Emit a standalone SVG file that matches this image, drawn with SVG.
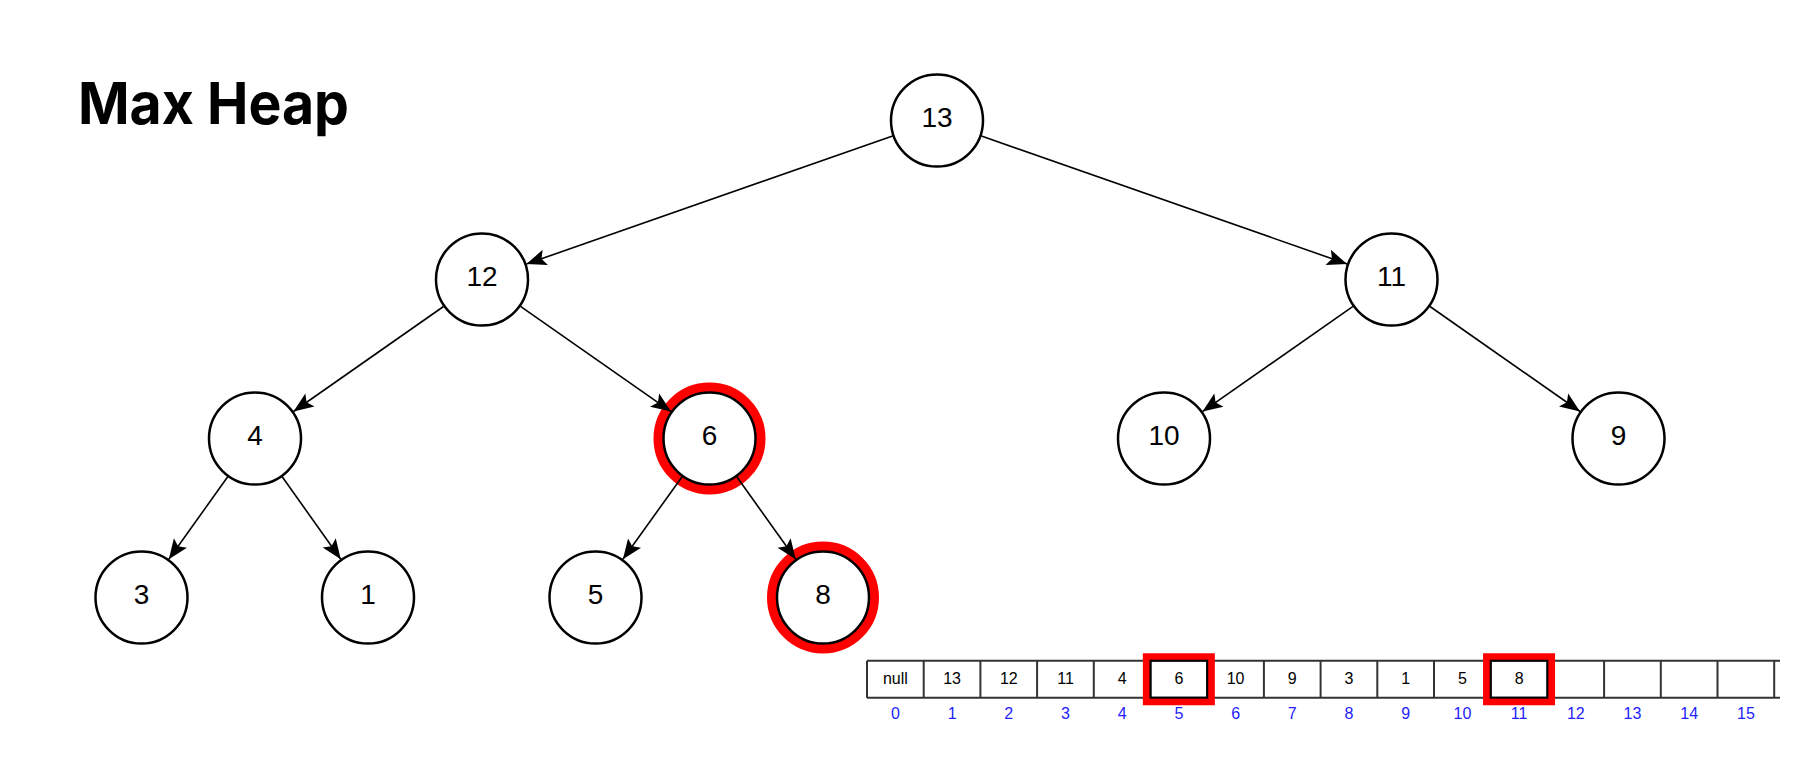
<svg xmlns="http://www.w3.org/2000/svg" width="1807" height="758" viewBox="0 0 1807 758">
  <style>
    .node circle.c { fill: #ffffff; stroke: #000000; stroke-width: 2.5; }
    .node circle.hl { fill: none; stroke: #ff0000; stroke-width: 10; }
    .node text { font-family: "Liberation Sans", Arial, sans-serif; font-size: 28px; fill: #000000; text-anchor: middle; }
    .edges line { stroke: #000000; stroke-width: 1.6; marker-end: url(#arrow); }
    .cellv { font-family: "Liberation Sans", Arial, sans-serif; font-size: 16px; fill: #000000; text-anchor: middle; }
    .celli { font-family: "Liberation Sans", Arial, sans-serif; font-size: 16px; fill: #2222ff; text-anchor: middle; }
    .tbl line { stroke: #333333; stroke-width: 2; }
    .redbox { fill: none; stroke: #ff0000; stroke-width: 7.5; }
    .cellbox { fill: none; stroke: #000000; stroke-width: 2; }
    .title { font-family: Inter, "Liberation Sans", Arial, sans-serif; font-weight: 700; font-size: 58px; fill: #000000; }
  </style>
  <defs>
    <marker id="arrow" markerUnits="userSpaceOnUse" markerWidth="20" markerHeight="16" refX="20" refY="8" orient="auto" overflow="visible">
      <path d="M0,0 L20,8 L0,16 L4,8 Z" fill="#000000"/>
    </marker>
  </defs>
  <rect width="1807" height="758" fill="#ffffff"/>

  <g id="title">
    <text class="title" x="78" y="123.5" textLength="271" lengthAdjust="spacingAndGlyphs">Max Heap</text>
  </g>

  <g id="node-13" class="node"><circle class="c" cx="937" cy="120.5" r="46"/><text x="937" y="127">13</text></g>
  <g id="node-12" class="node"><circle class="c" cx="482" cy="279.5" r="46"/><text x="482" y="286">12</text></g>
  <g id="node-11" class="node"><circle class="c" cx="1391.5" cy="279.5" r="46"/><text x="1391.5" y="286">11</text></g>
  <g id="node-4" class="node"><circle class="c" cx="255" cy="438.5" r="46"/><text x="255" y="445">4</text></g>
  <g id="node-6" class="node"><circle class="hl" cx="709.5" cy="438.5" r="51"/><circle class="c" cx="709.5" cy="438.5" r="46"/><text x="709.5" y="445">6</text></g>
  <g id="node-10" class="node"><circle class="c" cx="1164" cy="438.5" r="46"/><text x="1164" y="445">10</text></g>
  <g id="node-9" class="node"><circle class="c" cx="1618.5" cy="438.5" r="46"/><text x="1618.5" y="445">9</text></g>
  <g id="node-3" class="node"><circle class="c" cx="141.5" cy="597.5" r="46"/><text x="141.5" y="604">3</text></g>
  <g id="node-1" class="node"><circle class="c" cx="368" cy="597.5" r="46"/><text x="368" y="604">1</text></g>
  <g id="node-5" class="node"><circle class="c" cx="595.5" cy="597.5" r="46"/><text x="595.5" y="604">5</text></g>
  <g id="node-8" class="node"><circle class="hl" cx="823" cy="597.5" r="51"/><circle class="c" cx="823" cy="597.5" r="46"/><text x="823" y="604">8</text></g>

  <g id="connectors" class="edges">
    <line x1="892.6" y1="136" x2="526.4" y2="264"/>
    <line x1="981.4" y1="136" x2="1347.1" y2="264"/>
    <line x1="443.5" y1="306.5" x2="293.5" y2="411.5"/>
    <line x1="520.5" y1="306.4" x2="671" y2="411.6"/>
    <line x1="1353" y1="306.4" x2="1202.5" y2="411.6"/>
    <line x1="1430" y1="306.5" x2="1580" y2="411.5"/>
    <line x1="227.7" y1="476.8" x2="168.8" y2="559.3"/>
    <line x1="282.2" y1="476.8" x2="340.8" y2="559.2"/>
    <line x1="682.1" y1="476.7" x2="622.9" y2="559.3"/>
    <line x1="736.8" y1="476.8" x2="795.7" y2="559.3"/>
  </g>

  <g id="array">
    <g class="tbl">
      <line x1="867" y1="660.7" x2="1780" y2="660.7"/>
      <line x1="867" y1="697.7" x2="1780" y2="697.7"/>
      <line x1="867" y1="660.7" x2="867" y2="697.7"/>
      <line x1="923.7" y1="660.7" x2="923.7" y2="697.7"/>
      <line x1="980.4" y1="660.7" x2="980.4" y2="697.7"/>
      <line x1="1037.1" y1="660.7" x2="1037.1" y2="697.7"/>
      <line x1="1093.8" y1="660.7" x2="1093.8" y2="697.7"/>
      <line x1="1150.5" y1="660.7" x2="1150.5" y2="697.7"/>
      <line x1="1207.2" y1="660.7" x2="1207.2" y2="697.7"/>
      <line x1="1263.9" y1="660.7" x2="1263.9" y2="697.7"/>
      <line x1="1320.6" y1="660.7" x2="1320.6" y2="697.7"/>
      <line x1="1377.3" y1="660.7" x2="1377.3" y2="697.7"/>
      <line x1="1434" y1="660.7" x2="1434" y2="697.7"/>
      <line x1="1490.7" y1="660.7" x2="1490.7" y2="697.7"/>
      <line x1="1547.4" y1="660.7" x2="1547.4" y2="697.7"/>
      <line x1="1604.1" y1="660.7" x2="1604.1" y2="697.7"/>
      <line x1="1660.8" y1="660.7" x2="1660.8" y2="697.7"/>
      <line x1="1717.5" y1="660.7" x2="1717.5" y2="697.7"/>
      <line x1="1774.2" y1="660.7" x2="1774.2" y2="697.7"/>
    </g>
    <rect class="redbox" x="1146.6" y="657" width="64.5" height="44.5"/>
    <rect class="cellbox" x="1150.5" y="660.7" width="56.7" height="37"/>
    <rect class="redbox" x="1486.8" y="657" width="64.5" height="44.5"/>
    <rect class="cellbox" x="1490.7" y="660.7" width="56.7" height="37"/>

    <text class="cellv" x="895.4" y="684">null</text>
    <text class="cellv" x="952.1" y="684">13</text>
    <text class="cellv" x="1008.8" y="684">12</text>
    <text class="cellv" x="1065.5" y="684">11</text>
    <text class="cellv" x="1122.2" y="684">4</text>
    <text class="cellv" x="1178.9" y="684">6</text>
    <text class="cellv" x="1235.6" y="684">10</text>
    <text class="cellv" x="1292.3" y="684">9</text>
    <text class="cellv" x="1349" y="684">3</text>
    <text class="cellv" x="1405.7" y="684">1</text>
    <text class="cellv" x="1462.4" y="684">5</text>
    <text class="cellv" x="1519.1" y="684">8</text>

    <text class="celli" x="895.4" y="719">0</text>
    <text class="celli" x="952.1" y="719">1</text>
    <text class="celli" x="1008.8" y="719">2</text>
    <text class="celli" x="1065.5" y="719">3</text>
    <text class="celli" x="1122.2" y="719">4</text>
    <text class="celli" x="1178.9" y="719">5</text>
    <text class="celli" x="1235.6" y="719">6</text>
    <text class="celli" x="1292.3" y="719">7</text>
    <text class="celli" x="1349" y="719">8</text>
    <text class="celli" x="1405.7" y="719">9</text>
    <text class="celli" x="1462.4" y="719">10</text>
    <text class="celli" x="1519.1" y="719">11</text>
    <text class="celli" x="1575.8" y="719">12</text>
    <text class="celli" x="1632.5" y="719">13</text>
    <text class="celli" x="1689.2" y="719">14</text>
    <text class="celli" x="1745.9" y="719">15</text>
  </g>
</svg>
